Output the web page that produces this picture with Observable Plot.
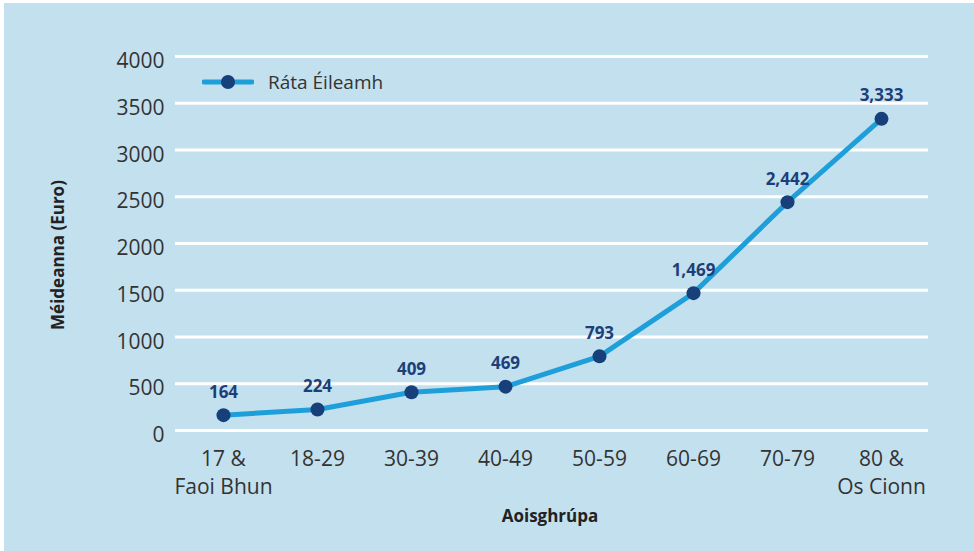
<!DOCTYPE html>
<html>
<head>
<meta charset="utf-8">
<script src="https://cdn.jsdelivr.net/npm/d3@7"></script>
<script src="https://cdn.jsdelivr.net/npm/@observablehq/plot@0.6"></script>
<style>
  html, body { margin: 0; padding: 0; background: #ffffff; width: 974px; height: 551px; overflow: hidden; }
  #wrap { position: absolute; left: 4px; top: 3px; width: 970px; height: 548px; background: #c3e0ef; }
  #legend { position: absolute; left: 202px; top: 69px; display: flex; align-items: center; font-family: "Open Sans", sans-serif; font-size: 19px; color: #333; white-space: nowrap; }
  #legend svg { margin-right: 14px; }
  .title { position: absolute; font-family: "Open Sans", sans-serif; font-weight: bold; font-size: 17px; color: #222; white-space: nowrap; line-height: 1; }
  #ytitle { left: 57px; top: 255px; transform: translate(-50%, -50%) rotate(-90deg); }
  #xtitle { left: 550px; top: 515px; transform: translate(-50%, -50%); }
</style>
</head>
<body>
<div id="wrap"></div>
<script>
const categories = ["17 &\nFaoi Bhun", "18-29", "30-39", "40-49", "50-59", "60-69", "70-79", "80 &\nOs Cionn"];
const values = [164, 224, 409, 469, 793, 1469, 2442, 3333];
const yTicks = [0, 500, 1000, 1500, 2000, 2500, 3000, 3500, 4000];
const seriesName = "Ráta Éileamh";
const yTitle = "Méideanna (Euro)";
const xTitle = "Aoisghrúpa";

const data = categories.map((c, i) => ({cat: c, v: values[i]}));
const lineColor = "#1e9fda";
const dotColor = "#173f7a";
const fmt = d3.format(",");

const chart = Plot.plot({
  width: 970,
  height: 548,
  marginLeft: 171,
  marginRight: 46,
  marginTop: 53,
  marginBottom: 121,
  style: { background: "transparent", fontFamily: "'Open Sans', sans-serif", overflow: "visible" },
  x: { type: "point", domain: categories, padding: 0.5 },
  y: { domain: [0, 4000] },
  marks: [
    Plot.ruleY(yTicks, { stroke: "#ffffff", strokeWidth: 3 }),
    Plot.axisY(yTicks, { tickSize: 0, tickPadding: 11, fontSize: 21, fill: "#333", label: null, dy: 5, tickFormat: d => String(d) }),
    Plot.axisX({ tickSize: 0, tickPadding: 15, fontSize: 21, fill: "#333", label: null, lineHeight: 1.35 }),
    Plot.line(data, { x: "cat", y: "v", stroke: lineColor, strokeWidth: 5 }),
    Plot.dot(data, { x: "cat", y: "v", r: 7, fill: dotColor, stroke: "none" }),
    Plot.text(data, { x: "cat", y: "v", text: d => fmt(d.v), dy: -23, fill: "#1d3f78", fontWeight: "bold", fontSize: 17 })
  ]
});
document.getElementById("wrap").appendChild(chart);

const legend = document.createElement("div");
legend.id = "legend";
legend.innerHTML = `<svg width="52" height="16"><line x1="2" y1="8" x2="50" y2="8" stroke="${lineColor}" stroke-width="5" stroke-linecap="round"/><circle cx="26" cy="8" r="7" fill="${dotColor}"/></svg><span>${seriesName}</span>`;
document.body.appendChild(legend);

const yt = document.createElement("div");
yt.id = "ytitle"; yt.className = "title"; yt.textContent = yTitle;
document.body.appendChild(yt);
const xt = document.createElement("div");
xt.id = "xtitle"; xt.className = "title"; xt.textContent = xTitle;
document.body.appendChild(xt);
</script>
</body>
</html>
